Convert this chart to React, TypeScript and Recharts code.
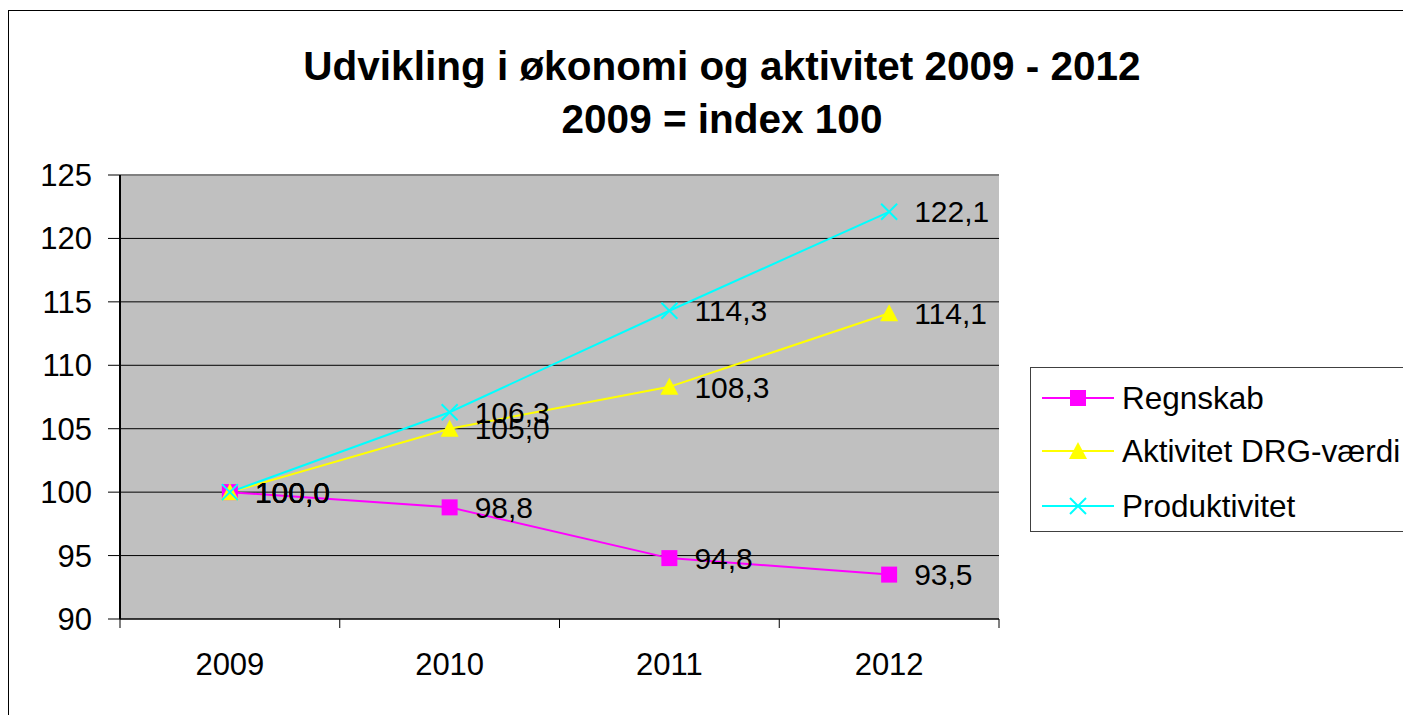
import React from 'react';
import {
  LineChart,
  Line,
  XAxis,
  YAxis,
  CartesianGrid,
  Legend,
  LabelList,
  ReferenceLine,
} from 'recharts';

const years = ['2009', '2010', '2011', '2012'];
const regnskab = [100.0, 98.8, 94.8, 93.5];
const aktivitet = [100.0, 105.0, 108.3, 114.1];
const produktivitet = [100.0, 106.3, 114.3, 122.1];
const yTicks = [90, 95, 100, 105, 110, 115, 120, 125];

const FONT = '"Liberation Sans", Arial, sans-serif';
const MAGENTA = '#ff00ff';
const YELLOW = '#ffff00';
const CYAN = '#00ffff';

const data = years.map((y, i) => ({
  year: y,
  regnskab: regnskab[i],
  aktivitet: aktivitet[i],
  produktivitet: produktivitet[i],
}));

const fmt = (v: any) => Number(v).toFixed(1).replace('.', ',');

const Square = ({ cx, cy, c = MAGENTA }: any) => (
  <rect x={cx - 8} y={cy - 8} width={16} height={16} fill={c} />
);
const Triangle = ({ cx, cy, c = YELLOW }: any) => (
  <polygon points={`${cx},${cy - 9} ${cx - 9},${cy + 8} ${cx + 9},${cy + 8}`} fill={c} />
);
const Cross = ({ cx, cy, c = CYAN }: any) => (
  <g stroke={c} strokeWidth={2}>
    <line x1={cx - 8} y1={cy - 8} x2={cx + 8} y2={cy + 8} />
    <line x1={cx - 8} y1={cy + 8} x2={cx + 8} y2={cy - 8} />
  </g>
);

const legendItems = [
  { name: 'Regnskab', color: MAGENTA, Mark: Square },
  { name: 'Aktivitet DRG-værdi', color: YELLOW, Mark: Triangle },
  { name: 'Produktivitet', color: CYAN, Mark: Cross },
];

const renderLegend = () => (
  <div
    style={{
      width: 420,
      height: 165,
      boxSizing: 'border-box',
      border: '1px solid #404040',
      background: '#fff',
      position: 'relative',
      fontFamily: FONT,
    }}
  >
    {legendItems.map((it, i) => (
      <div
        key={it.name}
        style={{ position: 'absolute', left: 0, top: [30, 83, 138][i] - 20, height: 40, display: 'flex', alignItems: 'center' }}
      >
        <svg width={91} height={40} style={{ display: 'block' }}>
          <line x1={11} x2={83} y1={20} y2={20} stroke={it.color} strokeWidth={2} />
          <it.Mark cx={47} cy={20} c={it.color} />
        </svg>
        <span style={{ fontSize: 31.5, color: '#000', whiteSpace: 'nowrap', lineHeight: '40px' }}>{it.name}</span>
      </div>
    ))}
  </div>
);

const XTick = (props: any) => {
  const { x, y, payload, index, visibleTicksCount, width } = props;
  const half = payload?.offset || width / visibleTicksCount / 2;
  return (
    <g>
      <line x1={x - half} x2={x - half} y1={y} y2={y + 9} stroke="#000" />
      {index === visibleTicksCount - 1 && (
        <line x1={x + half} x2={x + half} y1={y} y2={y + 9} stroke="#000" />
      )}
      <text x={x} y={y + 56} textAnchor="middle" fontSize={31} fill="#000" fontFamily={FONT}>
        {payload.value}
      </text>
    </g>
  );
};

const App = () => (
  <div style={{ position: 'relative', top: 2, width: 1403, height: 707, overflow: 'hidden', fontFamily: FONT }}>
    <div
      style={{
        position: 'absolute',
        left: 0,
        top: 0,
        right: 0,
        bottom: 0,
        borderLeft: '1px solid #000',
        borderTop: '1px solid #000',
        pointerEvents: 'none',
        zIndex: 2,
      }}
    />
    <div
      style={{
        position: 'absolute',
        left: 214,
        width: 1000,
        top: 30,
        textAlign: 'center',
        fontWeight: 'bold',
        fontSize: 40.5,
        lineHeight: '53px',
        color: '#000',
        zIndex: 1,
      }}
    >
      <div>Udvikling i økonomi og aktivitet 2009 - 2012</div>
      <div>2009 = index 100</div>
    </div>
    <LineChart
      width={1403}
      height={707}
      data={data}
      margin={{ top: 165, right: 412, bottom: 0, left: 0 }}
      style={{ fontFamily: FONT }}
    >
      <CartesianGrid vertical={false} stroke="#000" fill="#c0c0c0" fillOpacity={1} />
      <XAxis
        dataKey="year"
        scale="band"
        height={98}
        tickLine={false}
        tickSize={0}
        tickMargin={0}
        axisLine={{ stroke: '#000', strokeWidth: 1 }}
        tick={<XTick />}
        interval={0}
      />
      <YAxis
        width={112}
        domain={[90, 125]}
        ticks={yTicks}
        interval={0}
        tickSize={12}
        tickMargin={16}
        tickLine={{ stroke: '#000' }}
        axisLine={{ stroke: '#000', strokeWidth: 2 }}
        tick={{ fontSize: 31, fill: '#000', fontFamily: FONT }}
      />
      <YAxis
        yAxisId="r"
        orientation="right"
        width={0}
        domain={[90, 125]}
        tick={false}
        tickLine={false}
        axisLine={{ stroke: '#808080', strokeWidth: 2 }}
      />
      <ReferenceLine y={125} stroke="#808080" strokeWidth={2} />
      <Legend
        layout="vertical"
        align="center"
        verticalAlign="middle"
        content={renderLegend}
        wrapperStyle={{ left: 1022, top: 357, width: 420, height: 165 }}
      />
      <Line
        dataKey="regnskab"
        name="Regnskab"
        stroke={MAGENTA}
        strokeWidth={2}
        dot={(p: any) => <Square key={`r${p.index}`} cx={p.cx} cy={p.cy} />}
        isAnimationActive={false}
      >
        <LabelList dataKey="regnskab" position="right" offset={25} formatter={fmt} fill="#000" fontSize={30} fontFamily={FONT} />
      </Line>
      <Line
        dataKey="aktivitet"
        name="Aktivitet DRG-værdi"
        stroke={YELLOW}
        strokeWidth={2}
        dot={(p: any) => <Triangle key={`a${p.index}`} cx={p.cx} cy={p.cy} />}
        isAnimationActive={false}
      >
        <LabelList dataKey="aktivitet" position="right" offset={25} formatter={fmt} fill="#000" fontSize={30} fontFamily={FONT} />
      </Line>
      <Line
        dataKey="produktivitet"
        name="Produktivitet"
        stroke={CYAN}
        strokeWidth={2}
        dot={(p: any) => <Cross key={`p${p.index}`} cx={p.cx} cy={p.cy} />}
        isAnimationActive={false}
      >
        <LabelList dataKey="produktivitet" position="right" offset={25} formatter={fmt} fill="#000" fontSize={30} fontFamily={FONT} />
      </Line>
    </LineChart>
  </div>
);

export default App;
